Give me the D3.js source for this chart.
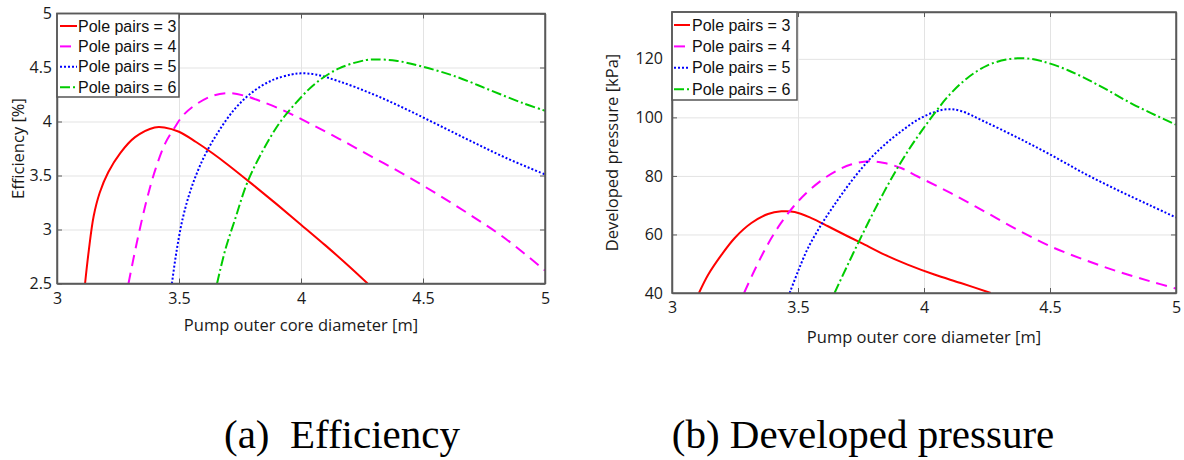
<!DOCTYPE html>
<html>
<head>
<meta charset="utf-8">
<script src="https://cdn.jsdelivr.net/npm/d3@7"></script>
<style>
  html, body { margin: 0; padding: 0; background: #ffffff; }
  svg { display: block; }
</style>
</head>
<body>
<svg id="chart" width="1184" height="460"></svg>
<script>
// ---------- DATA ----------
const xTicks = [3, 3.5, 4, 4.5, 5];
const effTicks = [2.5, 3, 3.5, 4, 4.5, 5];
const presTicks = [40, 60, 80, 100, 120];
const seriesLabels = ["Pole pairs = 3", "Pole pairs = 4", "Pole pairs = 5", "Pole pairs = 6"];
const captions = ["(a)  Efficiency", "(b) Developed pressure"];
const yLabels = ["Efficiency [%]", "Developed pressure [kPa]"];
const xLabel = "Pump outer core diameter [m]";

// Efficiency [%] vs diameter [m]
const eff3 = [[3.115,2.5],[3.13,2.8],[3.15,3.12],[3.175,3.34],[3.21,3.53],[3.26,3.71],[3.32,3.855],[3.4,3.945],[3.44,3.945],[3.5,3.905],[3.57,3.81],[3.636,3.708],[3.7,3.6],[3.8,3.42],[3.9,3.235],[4.0,3.045],[4.1,2.853],[4.2,2.653],[4.273,2.5]];
const eff4 = [[3.293,2.5],[3.327,2.877],[3.368,3.277],[3.403,3.554],[3.444,3.8],[3.485,3.954],[3.519,4.062],[3.567,4.154],[3.636,4.237],[3.704,4.262],[3.766,4.24],[3.827,4.194],[3.923,4.108],[4.033,3.985],[4.156,3.84],[4.293,3.67],[4.43,3.5],[4.567,3.315],[4.704,3.12],[4.841,2.91],[5.0,2.62]];
const eff5 = [[3.471,2.5],[3.49,2.8],[3.515,3.1],[3.55,3.38],[3.6,3.66],[3.66,3.9],[3.73,4.12],[3.8,4.27],[3.88,4.38],[3.96,4.435],[4.0,4.446],[4.06,4.435],[4.156,4.372],[4.293,4.255],[4.43,4.115],[4.567,3.963],[4.704,3.81],[4.841,3.662],[5.0,3.51]];
const eff6 = [[3.656,2.5],[3.69,2.815],[3.732,3.11],[3.779,3.43],[3.841,3.72],[3.91,3.98],[3.978,4.169],[4.06,4.354],[4.156,4.492],[4.266,4.569],[4.307,4.575],[4.389,4.563],[4.499,4.508],[4.636,4.415],[4.773,4.292],[4.91,4.17],[5.0,4.1]];

// Developed pressure [kPa] vs diameter [m]
const pres3 = [[3.107,40],[3.144,46.3],[3.197,53.1],[3.249,58.8],[3.315,63.9],[3.381,67.0],[3.434,67.9],[3.487,67.7],[3.553,65.6],[3.619,62.8],[3.685,59.9],[3.751,57.1],[3.843,53.1],[3.935,49.7],[4.041,46.3],[4.146,43.4],[4.265,40]];
const pres4 = [[3.286,40],[3.33,48.2],[3.38,56.6],[3.43,63.6],[3.48,69.3],[3.53,73.9],[3.59,78.3],[3.65,81.6],[3.71,83.9],[3.78,85.0],[3.843,84.4],[3.909,82.7],[3.975,79.8],[4.107,74.1],[4.239,67.9],[4.371,61.6],[4.503,55.9],[4.635,51.4],[4.767,47.4],[4.898,44.0],[5.0,41.5]];
const pres5 = [[3.467,40],[3.5,47.4],[3.54,55.4],[3.592,63.3],[3.645,70.2],[3.711,78.1],[3.777,85.0],[3.843,90.6],[3.909,95.2],[3.975,99.2],[4.041,101.8],[4.094,102.8],[4.146,102.2],[4.239,98.6],[4.371,93.1],[4.503,87.2],[4.635,80.9],[4.767,75.2],[4.898,69.9],[5.0,65.8]];
const pres6 = [[3.645,40],[3.69,48.3],[3.74,57.3],[3.79,66.0],[3.84,74.3],[3.89,82.0],[3.94,89.0],[3.99,95.3],[4.04,101.2],[4.1,107.6],[4.17,113.3],[4.25,117.7],[4.33,119.8],[4.4,120.2],[4.463,119.3],[4.569,116.2],[4.701,110.6],[4.833,104.3],[5.0,97.5]];

// ---------- STYLES ----------
const seriesStyle = [
  { color: "#ff0000", dash: null },
  { color: "#ff00ff", dash: "11,7" },
  { color: "#0000ff", dash: "2,2" },
  { color: "#00cc00", dash: "10,3,2,3" }
];

const svg = d3.select("#chart");
const tickFont = "'Open Sans', 'Noto Sans', sans-serif";

function drawPanel(cfg) {
  const x = d3.scaleLinear().domain([3, 5]).range([cfg.left, cfg.right]);
  const y = d3.scaleLinear().domain(cfg.yDomain).range([cfg.bottom, cfg.top]);
  const g = svg.append("g");
  const w = cfg.right - cfg.left, h = cfg.bottom - cfg.top;

  const clipId = "clip" + cfg.id;
  svg.append("defs").append("clipPath").attr("id", clipId)
    .append("rect").attr("x", cfg.left).attr("y", cfg.top).attr("width", w).attr("height", h);

  // grid
  g.append("g").attr("transform", `translate(0,${cfg.bottom})`)
    .call(d3.axisBottom(x).tickValues(xTicks).tickSize(-h).tickFormat(""))
    .call(s => s.select(".domain").remove())
    .call(s => s.selectAll("line").attr("stroke", "#e3e3e3").attr("stroke-width", 1));
  g.append("g").attr("transform", `translate(${cfg.left},0)`)
    .call(d3.axisLeft(y).tickValues(cfg.yTicks).tickSize(-w).tickFormat(""))
    .call(s => s.select(".domain").remove())
    .call(s => s.selectAll("line").attr("stroke", "#e3e3e3").attr("stroke-width", 1));

  // lines
  const line = d3.line().x(d => x(d[0])).y(d => y(d[1])).curve(d3.curveCatmullRom.alpha(0.5));
  const lg = g.append("g").attr("clip-path", `url(#${clipId})`);
  cfg.series.forEach((s, i) => {
    lg.append("path").datum(s)
      .attr("d", line)
      .attr("fill", "none")
      .attr("stroke", seriesStyle[i].color)
      .attr("stroke-width", 2)
      .attr("stroke-dasharray", seriesStyle[i].dash);
  });

  // axes (ticks inward)
  const axColor = "#5a5a5a";
  const styleAxis = s => {
    s.select(".domain").attr("stroke", axColor).attr("stroke-width", 1.5);
    s.selectAll(".tick line").attr("stroke", axColor).attr("stroke-width", 1);
    s.selectAll("text").attr("fill", "#1a1a1a").attr("font-family", tickFont).attr("font-size", cfg.tickSize);
  };
  g.append("g").attr("transform", `translate(0,${cfg.bottom})`)
    .call(d3.axisBottom(x).tickValues(xTicks).tickSizeInner(-5).tickSizeOuter(0).tickPadding(cfg.xPad).tickFormat(d => String(d)))
    .call(styleAxis);
  g.append("g").attr("transform", `translate(0,${cfg.top})`)
    .call(d3.axisTop(x).tickValues(xTicks).tickSizeInner(-5).tickSizeOuter(0).tickFormat(""))
    .call(styleAxis);
  g.append("g").attr("transform", `translate(${cfg.left},0)`)
    .call(d3.axisLeft(y).tickValues(cfg.yTicks).tickSizeInner(-5).tickSizeOuter(0).tickPadding(cfg.yPad).tickFormat(d => String(d)))
    .call(styleAxis);
  g.append("g").attr("transform", `translate(${cfg.right},0)`)
    .call(d3.axisRight(y).tickValues(cfg.yTicks).tickSizeInner(-5).tickSizeOuter(0).tickFormat(""))
    .call(styleAxis);

  // axis labels
  g.append("text")
    .attr("x", (cfg.left + cfg.right) / 2).attr("y", cfg.xLabelY)
    .attr("text-anchor", "middle").attr("font-family", tickFont).attr("font-size", cfg.labelSize)
    .attr("fill", "#1a1a1a").text(xLabel);
  g.append("text")
    .attr("transform", `translate(${cfg.yLabelX},${(cfg.top + cfg.bottom) / 2}) rotate(-90)`)
    .attr("text-anchor", "middle").attr("font-family", tickFont).attr("font-size", cfg.labelSize)
    .attr("fill", "#1a1a1a").text(cfg.yLabel);

  // legend
  const L = cfg.legend;
  const leg = g.append("g");
  leg.append("rect").attr("x", cfg.left).attr("y", cfg.top)
    .attr("width", L.w).attr("height", L.h)
    .attr("fill", "#ffffff").attr("stroke", "#555").attr("stroke-width", 1.5);
  seriesLabels.forEach((lab, i) => {
    const yy = cfg.top + L.row0 + i * L.rowStep;
    leg.append("line")
      .attr("x1", cfg.left + L.s0).attr("x2", cfg.left + L.s1)
      .attr("y1", yy).attr("y2", yy)
      .attr("stroke", seriesStyle[i].color).attr("stroke-width", 2)
      .attr("stroke-dasharray", seriesStyle[i].dash);
    leg.append("text")
      .attr("x", cfg.left + L.tx).attr("y", yy + 5.5)
      .attr("font-family", "'Liberation Sans', Arial, sans-serif").attr("font-size", L.font)
      .attr("fill", "#111").text(lab);
  });

  // redraw box over everything
  g.append("rect").attr("x", cfg.left).attr("y", cfg.top).attr("width", w).attr("height", h)
    .attr("fill", "none").attr("stroke", axColor).attr("stroke-width", 1.5);

  // caption
  svg.append("text")
    .attr("x", cfg.capX).attr("y", 448)
    .attr("text-anchor", "middle")
    .attr("font-family", "'Liberation Serif', 'Times New Roman', serif")
    .attr("font-size", 41).attr("fill", "#000")
    .attr("xml:space", "preserve")
    .text(cfg.caption);
}

drawPanel({
  id: "a", left: 57, right: 545, top: 13.5, bottom: 283.5,
  yDomain: [2.5, 5], yTicks: effTicks, series: [eff3, eff4, eff5, eff6],
  xPad: 9, yPad: 5, tickSize: 16, labelSize: 16.5,
  xLabelY: 331, yLabelX: 24, yLabel: yLabels[0],
  legend: { w: 122, h: 83.5, row0: 12.5, rowStep: 20.4, s0: 3, s1: 20, tx: 21, font: 16 },
  capX: 342, caption: captions[0]
});

drawPanel({
  id: "b", left: 672, right: 1176, top: 12, bottom: 293,
  yDomain: [40, 136], yTicks: presTicks, series: [pres3, pres4, pres5, pres6],
  xPad: 9, yPad: 9, tickSize: 16, labelSize: 16.5,
  xLabelY: 343, yLabelX: 618, yLabel: yLabels[1],
  legend: { w: 125, h: 88, row0: 13, rowStep: 21.4, s0: 2, s1: 18, tx: 20, font: 16 },
  capX: 863, caption: captions[1]
});
</script>
</body>
</html>
